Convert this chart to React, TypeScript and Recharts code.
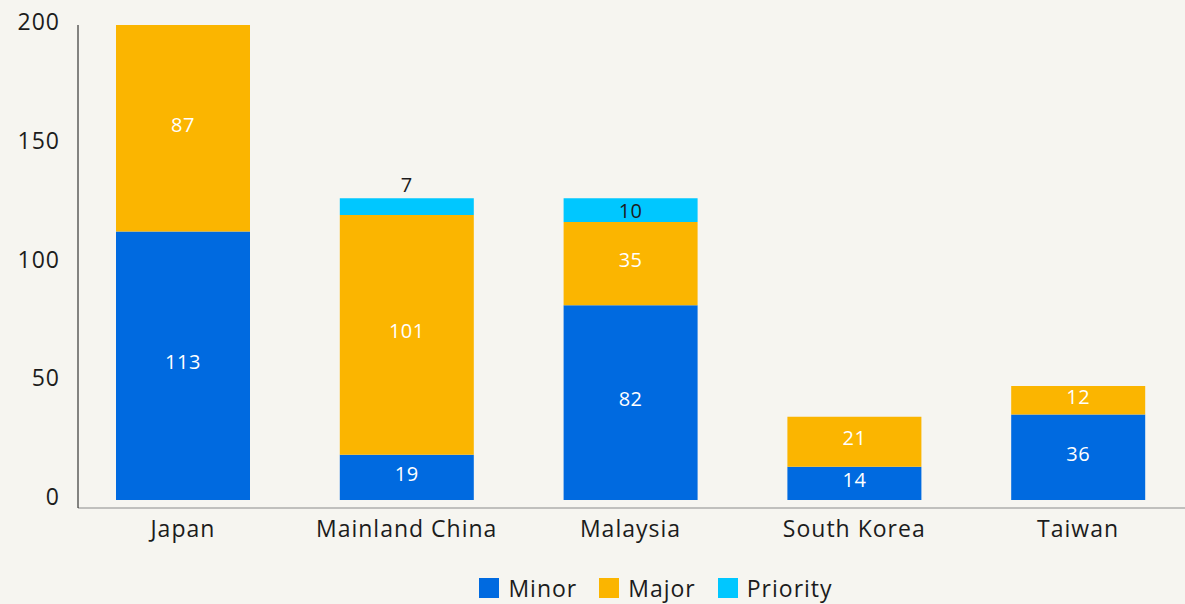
import { Bar, BarChart, LabelList, XAxis, YAxis } from 'recharts';

const MINOR_COLOR = '#006ae0';
const MAJOR_COLOR = '#fbb500';
const PRIORITY_COLOR = '#00c7ff';
const TEXT = '#1c1c1c';
const FONT = '"Open Sans", "Noto Sans", sans-serif';

const regions = ['Japan', 'Mainland China', 'Malaysia', 'South Korea', 'Taiwan'];
const minor = [113, 19, 82, 14, 36];
const major = [87, 101, 35, 21, 12];
const priority = [0, 7, 10, 0, 0];
const yTicks = [0, 50, 100, 150, 200];

const data = regions.map((region, i) => ({
  region,
  minor: minor[i],
  major: major[i],
  priority: priority[i],
}));

// white value in the middle of a segment
function InsideLabel(props: any) {
  const { x, y, width, height, value } = props;
  if (!value) return null;
  return (
    <text
      x={x + width / 2}
      y={y + height / 2 - 4}
      textAnchor="middle"
      dominantBaseline="central"
      fill="#fff"
      fontSize={20}
      letterSpacing={0.5}
      fontFamily={FONT}
    >
      {value}
    </text>
  );
}

// priority slice: dark text, pushed above the bar when the slice is too thin
function PriorityLabel(props: any) {
  const { x, y, width, height, value } = props;
  if (!value) return null;
  const above = Math.abs(height) < 20;
  return (
    <text
      x={x + width / 2}
      y={above ? y - 14 : y + height / 2}
      textAnchor="middle"
      dominantBaseline="central"
      fill={TEXT}
      fontSize={20}
      letterSpacing={0.5}
      fontFamily={FONT}
    >
      {value}
    </text>
  );
}

const legendItems = [
  { name: 'Minor', color: MINOR_COLOR },
  { name: 'Major', color: MAJOR_COLOR },
  { name: 'Priority', color: PRIORITY_COLOR },
];

export default function App() {
  return (
    <div
      style={{
        position: 'absolute',
        left: 0,
        top: 0,
        width: 1185,
        height: 604,
        background: '#f6f5f0',
        fontFamily: FONT,
      }}
    >
      <BarChart
        width={1185}
        height={560}
        data={data}
        margin={{ top: 25, right: 0, bottom: 22, left: 0 }}
        barSize={134}
      >
        <XAxis
          dataKey="region"
          stroke="#8a8a8a"
          tickLine={false}
          tickMargin={7}
          height={30}
          padding={{ left: -7, right: -5 }}
          tick={{ fill: TEXT, fontSize: 23, fontFamily: FONT, letterSpacing: 1 }}
        />
        <YAxis
          width={78}
          domain={[-3.37, 200]}
          ticks={yTicks}
          allowDataOverflow
          axisLine={{ stroke: '#111' }}
          stroke="#111"
          tickLine={false}
          tickMargin={12}
          tick={{ fill: TEXT, fontSize: 23, fontFamily: FONT, letterSpacing: 1, dy: -3 }}
        />
        <Bar dataKey="minor" stackId="a" fill={MINOR_COLOR} isAnimationActive={false}>
          <LabelList dataKey="minor" content={<InsideLabel />} />
        </Bar>
        <Bar dataKey="major" stackId="a" fill={MAJOR_COLOR} isAnimationActive={false}>
          <LabelList dataKey="major" content={<InsideLabel />} />
        </Bar>
        <Bar dataKey="priority" stackId="a" fill={PRIORITY_COLOR} isAnimationActive={false}>
          <LabelList dataKey="priority" content={<PriorityLabel />} />
        </Bar>
      </BarChart>
      <div
        style={{
          display: 'flex',
          justifyContent: 'center',
          alignItems: 'center',
          gap: 22,
          marginTop: 12,
          paddingLeft: 127,
          fontSize: 23,
          letterSpacing: 1,
          color: TEXT,
        }}
      >
        {legendItems.map((item) => (
          <span key={item.name} style={{ display: 'flex', alignItems: 'center', gap: 9 }}>
            <span style={{ display: 'inline-block', width: 20, height: 20, background: item.color }} />
            {item.name}
          </span>
        ))}
      </div>
    </div>
  );
}
